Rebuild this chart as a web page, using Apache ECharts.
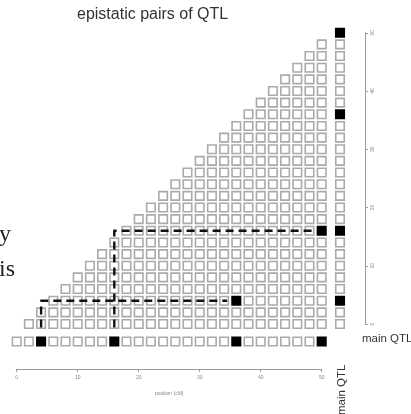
<!DOCTYPE html>
<html>
<head>
<meta charset="utf-8">
<script src="https://cdn.jsdelivr.net/npm/echarts@6/dist/echarts.min.js"></script>
<style>
html,body{margin:0;padding:0;background:#fff;}
#c{width:411px;height:414px;}
</style>
</head>
<body>
<div id="c"></div>
<script>
// ---- data ----
const positions = [0,2,4,6,8,10,12,14,16,18,20,22,24,26,28,30,32,34,36,38,40,42,44,46,48,50];
const mainQTL = [4,16,36,50];
const epistaticPairs = [[36,4],[50,16]];   // [x position, y position]
const xTicks = [0,10,20,30,40,50];
const yTicks = [0,10,20,30,40,50];

// ---- layout constants ----
const X0 = 16.7, XS = 6.1;     // px per cM horizontally
const Y0 = 324, YS = 5.825;    // px per cM vertically
const BOTTOM_ROW = -3;         // y value of main-QTL row
const RIGHT_COL = 53;          // x value of main-QTL column

const isPair = (x,y) => epistaticPairs.some(p => p[0]===x && p[1]===y);
const white = [], black = [];
for (let i = 0; i < positions.length; i++) {
  for (let j = i+1; j < positions.length; j++) {
    const x = positions[j], y = positions[i];
    (isPair(x,y) ? black : white).push([x,y]);
  }
}
positions.forEach(p => {
  (mainQTL.includes(p) ? black : white).push([p, BOTTOM_ROW]);
  (mainQTL.includes(p) ? black : white).push([RIGHT_COL, p]);
});

const dashSeries = epistaticPairs.map(p => ({
  type: 'line', xAxisIndex: 0, yAxisIndex: 0, symbol: 'none', z: 5,
  clip: false, silent: true, animation: false,
  lineStyle: { color: '#111', width: 2.4, type: [8,5], join: 'round' },
  data: [[p[1], -0.6], [p[1], p[1]], [p[0]-1.5, p[1]]]
}));

const chart = echarts.init(document.getElementById('c'), null, {renderer:'canvas'});
const gray = '#9a9a9a';
chart.setOption({
  animation: false,
  title: { text: 'epistatic pairs of QTL', left: 77, top: 7, padding: 0,
           textStyle: { fontFamily: 'Liberation Sans, Arial', fontSize: 16, fontWeight: 'normal', color: '#333' } },
  grid: [
    { left: X0, width: 54*XS, top: Y0 - 50*YS, height: 54*YS, containLabel: false, outerBoundsMode: 'none' },
    { left: X0, width: 50*XS, top: 300, height: 69, containLabel: false, outerBoundsMode: 'none' },
    { left: 300, width: 65, top: Y0 - 50*YS, height: 50*YS, containLabel: false, outerBoundsMode: 'none' }
  ],
  xAxis: [
    { gridIndex: 0, type: 'value', min: 0, max: 54, show: false },
    { gridIndex: 1, type: 'value', min: 0, max: 50, interval: 10, position: 'bottom',
      axisLine: { show: true, onZero: false, lineStyle: { color: gray, width: 1 } },
      axisTick: { show: true, length: 3, lineStyle: { color: gray } },
      splitLine: { show: false },
      axisLabel: { fontSize: 5, color: '#888', margin: 6, fontFamily: 'Liberation Sans, Arial',
                   formatter: v => xTicks.includes(v) ? String(v) : '' },
      name: 'position (cM)', nameLocation: 'middle', nameGap: 22,
      nameTextStyle: { fontSize: 5, color: '#888', fontFamily: 'Liberation Sans, Arial' } },
    { gridIndex: 2, type: 'value', min: 0, max: 1, show: false }
  ],
  yAxis: [
    { gridIndex: 0, type: 'value', min: -4, max: 50, show: false },
    { gridIndex: 1, type: 'value', min: 0, max: 1, show: false },
    { gridIndex: 2, type: 'value', min: 0, max: 50, interval: 10, position: 'right',
      axisLine: { show: true, onZero: false, lineStyle: { color: gray, width: 1 } },
      axisTick: { show: true, length: 3, lineStyle: { color: gray } },
      splitLine: { show: false },
      axisLabel: { fontSize: 5, color: '#888', margin: 5, rotate: 90, fontFamily: 'Liberation Sans, Arial',
                   formatter: v => yTicks.includes(v) ? String(v) : '' } }
  ],
  series: [
    { type: 'scatter', xAxisIndex: 0, yAxisIndex: 0, symbol: 'rect', symbolSize: 8.5, clip: false, silent: true,
      itemStyle: { color: '#fff', borderColor: '#aaaaaa', borderWidth: 1.6, opacity: 1 }, data: white, z: 2 },
    { type: 'scatter', xAxisIndex: 0, yAxisIndex: 0, symbol: 'rect', symbolSize: 8.5, clip: false, silent: true,
      itemStyle: { color: '#000', borderColor: '#000', borderWidth: 1.6, opacity: 1 }, data: black, z: 3 },
    ...dashSeries
  ],
  graphic: [
    { type: 'text', left: 362, top: 333, style: { text: 'main QTL', fontSize: 11.5, fill: '#333', fontFamily: 'Liberation Sans, Arial' } },
    { type: 'text', x: 348, y: 415, rotation: Math.PI/2,
      style: { text: 'main QTL', fontSize: 11.5, fill: '#333', fontFamily: 'Liberation Sans, Arial', textVerticalAlign: 'bottom' } },
    { type: 'text', x: -1, y: 223, style: { text: 'y', fontSize: 24, fill: '#222', fontFamily: 'Liberation Serif, Times New Roman' } },
    { type: 'text', x: -1, y: 258, style: { text: 'is', fontSize: 24, fill: '#222', fontFamily: 'Liberation Serif, Times New Roman' } }
  ]
});
</script>
</body>
</html>
